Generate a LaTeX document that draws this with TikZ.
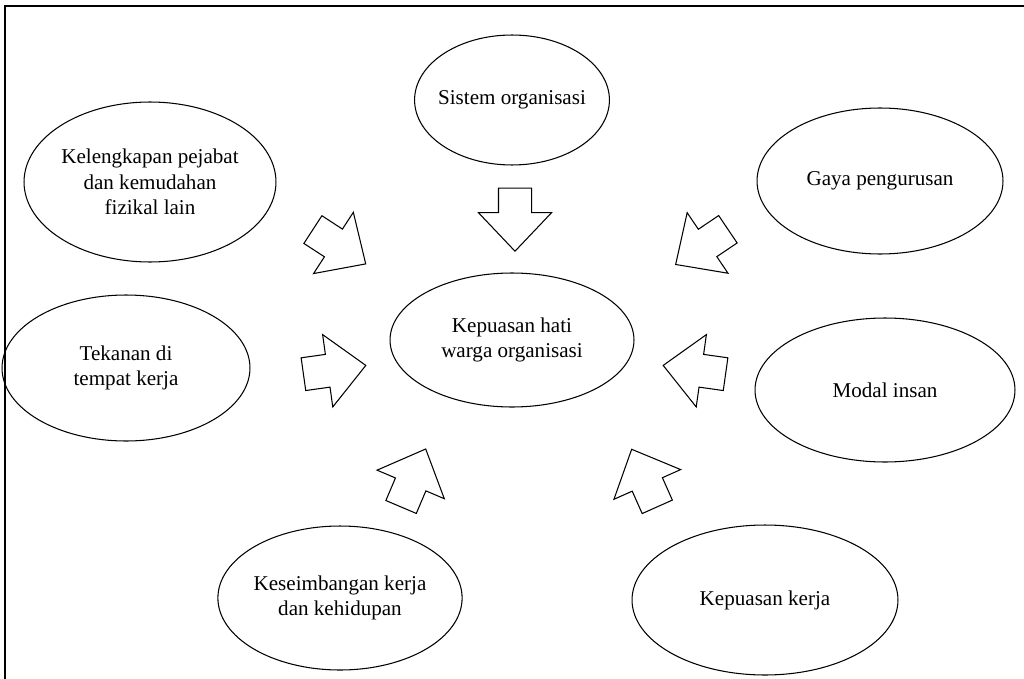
\documentclass[tikz,border=0pt]{standalone}
\usepackage{fontspec}
\setmainfont{Liberation Serif}
\usepackage{tikz}
\usetikzlibrary{positioning, shapes.geometric, shapes.arrows}

\tikzset{
    oval/.style = {draw, ellipse, align = center, inner sep = 0pt, line width = .6pt},
    blockarr/.style = {draw, single arrow, inner xsep = 0pt, inner ysep = .32cm, line width = .6pt,
        minimum height = 1.26cm,
        single arrow head extend = .4cm, single arrow tip angle = 87},
}

\begin{document}
\begin{tikzpicture}[x = .02cm, y = -.02cm, font = \fontsize{12}{14.5}\selectfont]
    \useasboundingbox (0, 0) rectangle (1024, 679);

    % frame
    \draw [line width = 1pt] (5, 679) -- (5, 6) -- (1024, 6);

    % factors round the centre
    \node [oval, minimum width = 4.88cm, minimum height = 2.68cm] (puas) at (512, 340) {Kepuasan hati\\warga organisasi};
    \node [oval, inner xsep = -.1cm, minimum width = 3.88cm, minimum height = 2.6cm] (sistem) at (512, 100) {Sistem organisasi};
    \node [oval, minimum width = 5.04cm, minimum height = 3.2cm] (lengkap) at (150, 182) {Kelengkapan pejabat\\dan kemudahan\\fizikal lain};
    \node [oval, minimum width = 4.92cm, minimum height = 2.92cm] (gaya) at (880, 181) {Gaya pengurusan};
    \node [oval, minimum width = 4.96cm, minimum height = 2.92cm] (tekanan) at (126, 368) {Tekanan di\\tempat kerja};
    \node [oval, minimum width = 5.2cm, minimum height = 2.88cm] (modal) at (885, 390) {Modal insan};
    \node [oval, minimum width = 4.8cm, minimum height = 2.88cm] (imbang) at (340, 598) {Keseimbangan kerja\\dan kehidupan};
    \node [oval, minimum width = 5.32cm, minimum height = 3cm] (kerja) at (765, 600) {Kepuasan kerja};

    % block arrows
    \node [blockarr, rotate = -90] (a1) at (515, 211) {};
    \node [blockarr, rotate = -33] (a2) at (332, 242) {};
    \node [blockarr, rotate = -146] (a3) at (709, 242) {};
    \node [blockarr, rotate = 8] (a4) at (326, 371) {};
    \node [blockarr, rotate = 172] (a5) at (703, 371) {};
    \node [blockarr, rotate = 67] (a6) at (410, 486) {};
    \node [blockarr, rotate = 114] (a7) at (648, 486) {};
\end{tikzpicture}
\end{document}
